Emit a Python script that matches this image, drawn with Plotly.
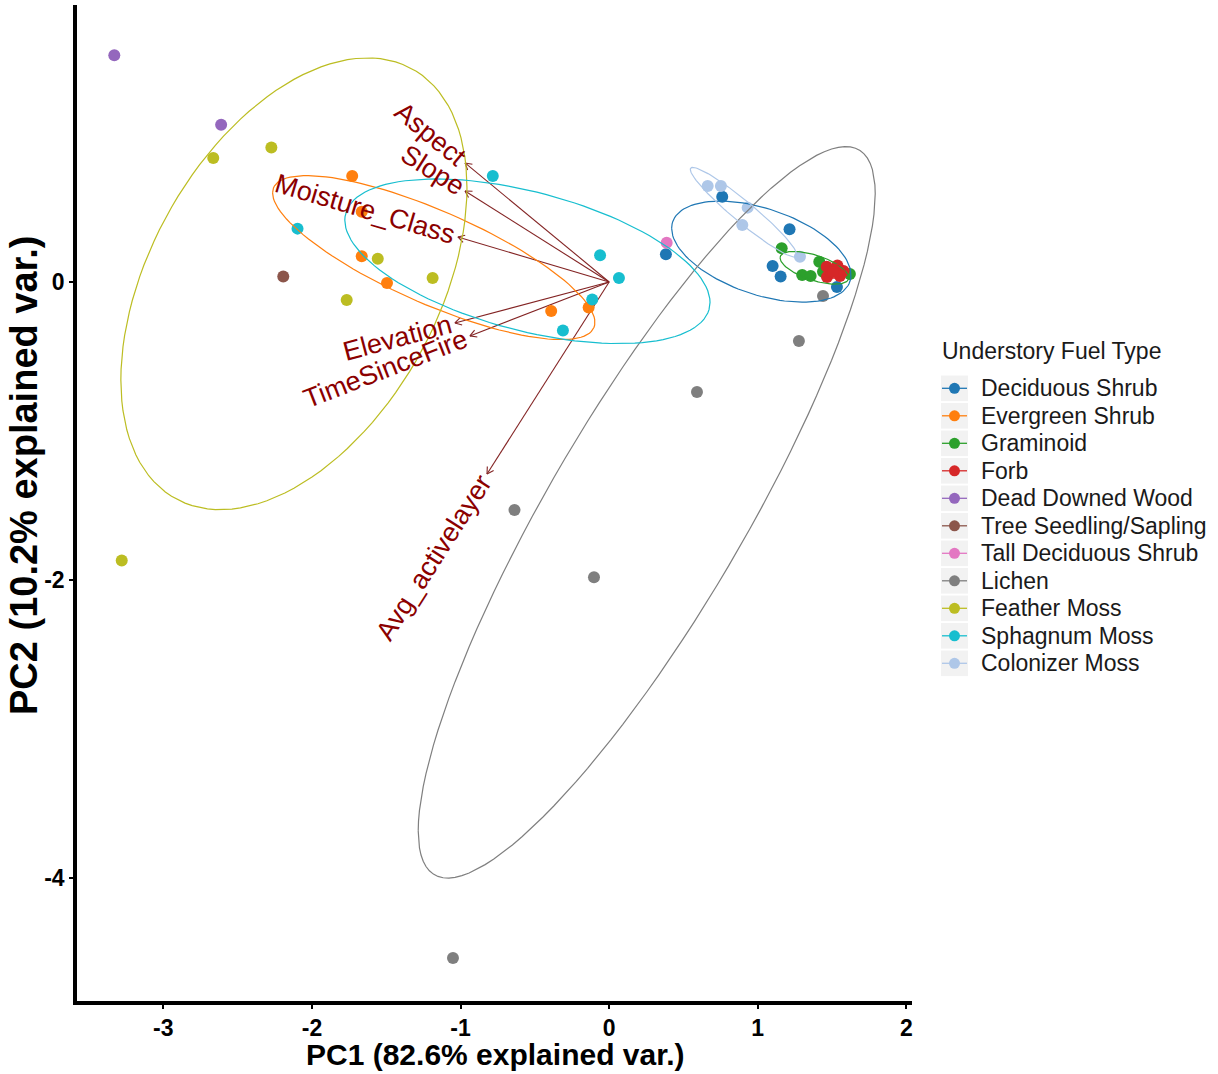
import numpy as np
import plotly.graph_objects as go

# ---------------- data ----------------
groups = ["Deciduous Shrub", "Evergreen Shrub", "Graminoid", "Forb", "Dead Downed Wood",
          "Tree Seedling/Sapling", "Tall Deciduous Shrub", "Lichen", "Feather Moss",
          "Sphagnum Moss", "Colonizer Moss"]
colors = ["#1f77b4", "#ff7f0e", "#2ca02c", "#d62728", "#9467bd", "#8c564b",
          "#e377c2", "#7f7f7f", "#bcbd22", "#17becf", "#aec7e8"]

pc1_deciduous_shrub = [0.761, 1.214, 1.100, 1.154, 1.533, 0.382]
pc2_deciduous_shrub = [0.572, 0.354, 0.107, 0.036, -0.034, 0.186]
pc1_evergreen_shrub = [-1.729, -1.665, -1.665, -1.495, -0.390, -0.138]
pc2_evergreen_shrub = [0.711, 0.472, 0.172, -0.007, -0.195, -0.172]
pc1_graminoid = [1.161, 1.299, 1.356, 1.414, 1.620, 1.439]
pc2_graminoid = [0.226, 0.047, 0.040, 0.136, 0.054, 0.069]
pc1_forb = [1.464, 1.536, 1.577, 1.466, 1.553, 1.506]
pc2_forb = [0.103, 0.111, 0.074, 0.034, 0.040, 0.067]
pc1_dead_downed_wood = [-3.330, -2.611]
pc2_dead_downed_wood = [1.521, 1.056]
pc1_tree_seedling = [-2.193]
pc2_tree_seedling = [0.036]
pc1_tall_deciduous = [0.387]
pc2_tall_deciduous = [0.263]
pc1_lichen = [-1.051, -0.637, -0.102, 0.591, 1.277, 1.439]
pc2_lichen = [-4.537, -1.530, -1.982, -0.738, -0.396, -0.094]
pc1_feather_moss = [-2.664, -2.273, -1.557, -1.188, -1.766, -3.280]
pc2_feather_moss = [0.832, 0.903, 0.156, 0.027, -0.121, -1.870]
pc1_sphagnum_moss = [-0.783, -2.097, -0.061, 0.066, -0.114, -0.311]
pc2_sphagnum_moss = [0.711, 0.358, 0.179, 0.027, -0.117, -0.325]
pc1_colonizer_moss = [0.663, 0.752, 0.932, 0.896, 1.284]
pc2_colonizer_moss = [0.644, 0.644, 0.499, 0.383, 0.170]

var_names = ["Aspect", "Slope", "Moisture_Class", "Elevation", "TimeSinceFire", "Avg_activelayer"]
var_pc1 = [-0.970, -0.970, -1.018, -1.038, -0.937, -0.822]
var_pc2 = [0.799, 0.611, 0.302, -0.275, -0.362, -1.289]

x_ticks = [-3, -2, -1, 0, 1, 2]
x_ticklabels = ["-3", "-2", "-1", "0", "1", "2"]
y_ticks = [-4, -2, 0]
y_ticklabels = ["-4", "-2", "0"]
x_title = "PC1 (82.6% explained var.)"
y_title = "PC2 (10.2% explained var.)"
legend_title = "Understory Fuel Type"

pc1_all = [pc1_deciduous_shrub, pc1_evergreen_shrub, pc1_graminoid, pc1_forb, pc1_dead_downed_wood,
           pc1_tree_seedling, pc1_tall_deciduous, pc1_lichen, pc1_feather_moss, pc1_sphagnum_moss,
           pc1_colonizer_moss]
pc2_all = [pc2_deciduous_shrub, pc2_evergreen_shrub, pc2_graminoid, pc2_forb, pc2_dead_downed_wood,
           pc2_tree_seedling, pc2_tall_deciduous, pc2_lichen, pc2_feather_moss, pc2_sphagnum_moss,
           pc2_colonizer_moss]

# ---------------- layout constants ----------------
W, H = 1218, 1074
ML, MR, MT, MB = 77, 306, 5, 73
XR = [-3.581, 2.038]
YR = [-4.826, 1.859]
FONT = "Liberation Sans, Arial, sans-serif"
PX_PER_UNIT = (W - ML - MR) / (XR[1] - XR[0])
plot_w = W - ML - MR
plot_h = H - MT - MB


def px2paper(px, py):
    return (px - ML) / plot_w, (H - MB - py) / plot_h


fig = go.Figure()

# ---------------- variable arrows (drawn first) ----------------
arrow_col = "#832424"
ax_, ay_ = [], []
head_len = 7.5 / PX_PER_UNIT
for vx, vy in zip(var_pc1, var_pc2):
    ax_ += [0, vx, None]
    ay_ += [0, vy, None]
    ang = np.arctan2(vy, vx)
    for d in (np.pi / 6, -np.pi / 6):
        back = ang + np.pi + d
        ax_ += [vx + head_len * np.cos(back), vx, None]
        ay_ += [vy + head_len * np.sin(back), vy, None]
fig.add_trace(go.Scatter(x=ax_, y=ay_, mode="lines", line=dict(color=arrow_col, width=1.1),
                         showlegend=False, hoverinfo="skip"))

# ---------------- points ----------------
for g, c, xs, ys in zip(groups, colors, pc1_all, pc2_all):
    fig.add_trace(go.Scatter(x=xs, y=ys, mode="markers", name=g,
                             marker=dict(color=c, size=12, line=dict(width=0)),
                             showlegend=False))

# ---------------- normal-data ellipses (68%) ----------------
ed = np.sqrt(-2 * np.log(1 - 0.68))
theta = np.linspace(-np.pi, np.pi, 121)
circle = np.column_stack([np.cos(theta), np.sin(theta)])
for g, c, xs, ys in zip(groups, colors, pc1_all, pc2_all):
    if len(xs) < 3:
        continue
    sigma = np.cov(np.array(xs), np.array(ys))
    L = np.linalg.cholesky(sigma)
    ell = circle @ L.T * ed + np.array([np.mean(xs), np.mean(ys)])
    fig.add_trace(go.Scatter(x=ell[:, 0], y=ell[:, 1], mode="lines",
                             line=dict(color=c, width=1.2), showlegend=False, hoverinfo="skip"))

# ---------------- variable labels ----------------
arial_w = {"A": 667, "s": 500, "p": 556, "e": 556, "c": 500, "t": 278, "S": 667, "l": 222, "o": 556,
           "M": 833, "i": 222, "u": 556, "r": 333, "_": 556, "C": 722, "E": 667, "v": 500, "a": 556,
           "n": 556, "T": 611, "m": 833, "F": 611, "g": 556, "y": 500}
lab_size = 27
annotations = []
for name, vx, vy in zip(var_names, var_pc1, var_pc2):
    L_px = sum(arial_w.get(ch, 556) for ch in name) / 1000 * lab_size
    norm = np.hypot(vx, vy)
    ux, uy = vx / norm, vy / norm
    off = (L_px / 2 + 4) / PX_PER_UNIT
    cx, cy = vx + ux * off, vy + uy * off
    angle = -np.degrees(np.arctan(vy / vx))
    annotations.append(dict(x=cx, y=cy, xref="x", yref="y", text=name, showarrow=False,
                            textangle=angle, xanchor="center", yanchor="middle",
                            font=dict(family=FONT, size=lab_size, color="#8B0000")))

# ---------------- axis titles ----------------
xt, yt = px2paper(495, 1054)
annotations.append(dict(x=xt, y=yt, xref="paper", yref="paper", text=x_title, showarrow=False,
                        xanchor="center", yanchor="middle",
                        font=dict(family=FONT, size=30, color="black", weight="bold")))
xt, yt = px2paper(24, 476)
annotations.append(dict(x=xt, y=yt, xref="paper", yref="paper", text=y_title, showarrow=False,
                        textangle=-90, xanchor="center", yanchor="middle",
                        font=dict(family=FONT, size=38, color="black", weight="bold")))

# ---------------- manual legend ----------------
shapes = []
tx, ty = px2paper(940, 351)
annotations.append(dict(x=tx, y=ty, xref="paper", yref="paper", text=legend_title,
                        showarrow=False, xanchor="left", yanchor="middle",
                        font=dict(family=FONT, size=23, color="#1a1a1a")))
y0 = 388.3
step = 27.5
for i, (g, c) in enumerate(zip(groups, colors)):
    cy = y0 + i * step
    bx0, by0 = px2paper(941, cy + 12.8)
    bx1, by1 = px2paper(968, cy - 12.8)
    shapes.append(dict(type="rect", xref="paper", yref="paper", x0=bx0, y0=by0, x1=bx1, y1=by1,
                       fillcolor="#F2F2F2", line=dict(width=0), layer="above"))
    lx0, ly = px2paper(942, cy)
    lx1, _ = px2paper(967, cy)
    shapes.append(dict(type="line", xref="paper", yref="paper", x0=lx0, y0=ly, x1=lx1, y1=ly,
                       line=dict(color=c, width=1.3), layer="above"))
    cx0, cy0 = px2paper(954.5 - 5.5, cy + 5.5)
    cx1, cy1 = px2paper(954.5 + 5.5, cy - 5.5)
    shapes.append(dict(type="circle", xref="paper", yref="paper", x0=cx0, y0=cy0, x1=cx1, y1=cy1,
                       fillcolor=c, line=dict(width=0), layer="above"))
    ax0, ay0 = px2paper(979, cy)
    annotations.append(dict(x=ax0, y=ay0, xref="paper", yref="paper", text=g, showarrow=False,
                            xanchor="left", yanchor="middle",
                            font=dict(family=FONT, size=23, color="#1a1a1a")))

fig.update_layout(
    width=W, height=H,
    margin=dict(l=ML, r=MR, t=MT, b=MB, autoexpand=False),
    paper_bgcolor="white", plot_bgcolor="white",
    showlegend=False,
    annotations=annotations,
    shapes=shapes,
    font=dict(family=FONT, color="black"),
)
fig.update_xaxes(range=XR, tickvals=x_ticks, ticktext=x_ticklabels, showgrid=False, zeroline=False,
                 showline=True, linecolor="black", linewidth=3.5, ticks="outside", ticklen=4,
                 tickwidth=1.5, tickcolor="black",
                 tickfont=dict(family=FONT, size=23, color="black", weight="bold"),
                 automargin=False)
fig.update_yaxes(range=YR, tickvals=y_ticks, ticktext=y_ticklabels, showgrid=False, zeroline=False,
                 showline=True, linecolor="black", linewidth=3.5, ticks="outside", ticklen=4,
                 tickwidth=1.5, tickcolor="black",
                 tickfont=dict(family=FONT, size=23, color="black", weight="bold"),
                 automargin=False)

fig.write_html("out.html")
